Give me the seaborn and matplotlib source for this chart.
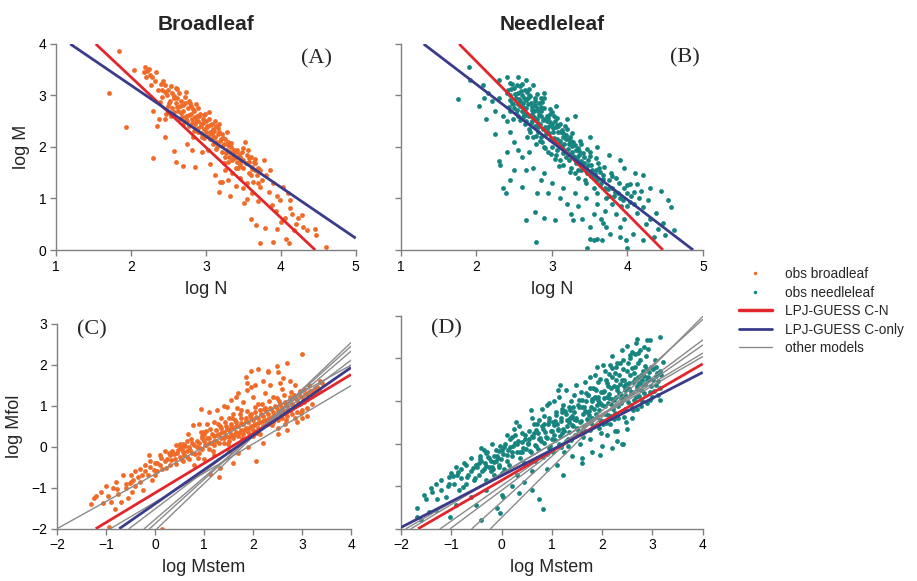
import numpy as np
import pandas as pd
import matplotlib
matplotlib.use('Agg')
import matplotlib.pyplot as plt
from matplotlib.lines import Line2D
import seaborn as sns

sns.set_style('ticks')
plt.rcParams['font.family'] = ['Liberation Sans', 'DejaVu Sans']

# --- colours
col_broad = '#F06A28'
col_needle = '#168580'
col_cn = '#E3262B'
col_conly = '#3B3B8C'
col_other = '#8A8A8A'

# --- observations, panel A (log N, log M) broadleaf
broad_nm = [
    (1.71, 3.05), (1.84, 3.86), (1.93, 2.38), (2.04, 3.49), (2.30, 1.78), (2.17, 3.45), (2.19, 3.55),
    (2.21, 3.48), (2.33, 3.46), (2.43, 3.29), (2.20, 3.36), (2.28, 3.35), (2.27, 3.20), (2.40, 3.22),
    (2.38, 2.55), (2.30, 2.70), (2.45, 2.55), (2.35, 2.40), (2.45, 2.20), (2.58, 1.93), (2.60, 1.70),
    (2.69, 1.64), (2.86, 1.62), (3.06, 1.67), (2.82, 1.95), (2.75, 2.05), (2.95, 1.90), (3.17, 1.12),
    (3.32, 1.05), (3.19, 1.33), (3.22, 1.33), (3.12, 1.45),
    (3.67, 0.49), (3.72, 0.13), (3.90, 0.15), (4.07, 0.21), (4.11, 0.13), (4.17, 0.39), (4.35, 0.39),
    (4.46, 0.40), (4.47, 0.30), (4.60, 0.05), (3.79, 0.42), (4.00, 0.55), (4.12, 0.81), (4.23, 0.62),
    (4.28, 0.68), (3.99, 0.97), (3.84, 1.13), (3.95, 1.04), (3.72, 1.23), (3.63, 1.33), (3.78, 1.74),
    (3.65, 1.76), (3.55, 0.99), (3.51, 0.91), (4.03, 1.23), (4.12, 0.97), (3.88, 0.88), (3.93, 0.75),
    (4.05, 0.62), (4.20, 0.50), (3.70, 0.95), (3.62, 1.10), (3.80, 1.45), (3.85, 1.55), (3.90, 1.30),
    (3.75, 1.35), (3.68, 1.45), (4.10, 1.10), (4.15, 0.70), (4.30, 0.45), (3.95, 0.40), (3.60, 0.60),
    (3.40, 1.25), (3.45, 1.40), (3.50, 1.20), (3.55, 1.30), (3.58, 1.50), (3.60, 1.45), (3.65, 1.55),
    (3.70, 1.30), (3.70, 1.60), (3.40, 1.60), (3.35, 1.50), (3.30, 1.35), (3.25, 1.55),
    (2.42, 3.10), (2.45, 3.20), (2.48, 3.00), (2.50, 3.10), (2.52, 2.90), (2.55, 3.05), (2.57, 2.95),
    (2.60, 2.85), (2.50, 2.80), (2.55, 2.75), (2.60, 3.15), (2.47, 2.65), (2.53, 2.60),
    (2.62, 2.95), (2.65, 2.80), (2.67, 2.90), (2.70, 2.70), (2.72, 2.85), (2.74, 2.60), (2.76, 2.75),
    (2.78, 2.90), (2.80, 2.65), (2.66, 2.55), (2.70, 2.45), (2.75, 2.50), (2.80, 2.80), (2.63, 2.70),
    (2.78, 2.40),
    (2.82, 2.55), (2.84, 2.70), (2.86, 2.45), (2.88, 2.60), (2.90, 2.50), (2.92, 2.65), (2.94, 2.40),
    (2.96, 2.55), (2.98, 2.35), (3.00, 2.50), (2.85, 2.35), (2.90, 2.30), (2.95, 2.20), (2.83, 2.20),
    (2.90, 2.75), (2.97, 2.62), (2.87, 2.50), (2.93, 2.45),
    (3.02, 2.40), (3.04, 2.55), (3.06, 2.30), (3.08, 2.45), (3.10, 2.35), (3.12, 2.20), (3.14, 2.40),
    (3.16, 2.25), (3.18, 2.30), (3.20, 2.15), (3.05, 2.15), (3.10, 2.05), (3.15, 2.00), (3.03, 1.95),
    (3.12, 2.50), (3.18, 2.45), (3.00, 2.30), (3.08, 2.25),
    (3.22, 2.25), (3.24, 2.05), (3.26, 2.15), (3.28, 1.95), (3.30, 2.10), (3.32, 1.90), (3.34, 2.00),
    (3.36, 1.85), (3.38, 1.95), (3.40, 1.80), (3.25, 1.80), (3.30, 1.70), (3.35, 1.75), (3.28, 2.30),
    (3.22, 1.90),
    (3.42, 1.95), (3.45, 1.80), (3.48, 1.90), (3.50, 1.75), (3.52, 2.10), (3.55, 1.85), (3.58, 1.70),
    (3.60, 1.80), (3.45, 1.65), (3.50, 1.60), (3.62, 1.62), (3.66, 1.68), (3.72, 1.55), (3.56, 1.95),
]
broad_nm_core = [
    (2.41, 2.98), (2.46, 3.07), (2.51, 2.86), (2.54, 3.18), (2.58, 2.99), (2.61, 2.77), (2.64, 3.04),
    (2.67, 2.66), (2.69, 2.81), (2.72, 2.97), (2.74, 2.54), (2.77, 2.63), (2.79, 2.86), (2.81, 2.47),
    (2.83, 2.74), (2.86, 2.58), (2.89, 2.37), (2.91, 2.61), (2.93, 2.28), (2.96, 2.47), (2.99, 2.64),
    (3.01, 2.39), (3.03, 2.21), (3.06, 2.42), (3.09, 2.17), (3.11, 2.31), (3.13, 2.09), (3.16, 2.36),
    (3.19, 2.11), (3.21, 2.01), (3.23, 2.18), (3.27, 1.88), (3.29, 2.03), (3.31, 1.81), (3.33, 2.07),
    (3.37, 1.79), (3.39, 1.91), (3.41, 1.71), (3.44, 1.87), (3.47, 1.72), (3.49, 1.98), (3.53, 1.69),
    (3.57, 1.79), (3.61, 1.58), (3.64, 1.71), (2.36, 3.11), (2.39, 2.87), (2.32, 3.29), (2.26, 3.39),
    (2.24, 3.52), (2.57, 2.68), (2.68, 2.58), (2.84, 2.31), (2.97, 2.18), (3.14, 1.96), (3.24, 1.69),
    (3.43, 1.59), (2.62, 3.12), (2.73, 3.06), (2.87, 2.83), (3.04, 2.68),
]

# --- observations, panel B (log N, log M) needleleaf
needle_nm = [
    (1.76, 2.94), (1.90, 3.55), (1.92, 3.30), (2.03, 2.79), (2.13, 2.54), (2.24, 2.26), (2.30, 1.72),
    (2.31, 1.65), (2.35, 1.21), (2.39, 1.11), (2.44, 1.35), (2.60, 1.23), (2.66, 0.59), (2.77, 0.73),
    (2.79, 0.15), (2.90, 0.63), (3.04, 0.58), (3.28, 0.59), (3.46, 0.03), (3.50, 0.21), (3.55, 0.20),
    (3.60, 0.22), (3.66, 0.20), (4.00, 0.03), (3.90, 0.25),
    (2.08, 3.20), (2.15, 3.05), (2.20, 2.90), (2.10, 2.95), (2.25, 2.70), (2.35, 2.60), (2.30, 2.95),
    (2.40, 2.50), (2.45, 2.30), (2.50, 2.10), (2.40, 1.90), (2.55, 1.95), (2.60, 1.80), (2.50, 1.55),
    (2.70, 1.90), (2.65, 1.55), (2.75, 1.60), (2.85, 1.35), (2.90, 1.50), (2.80, 1.10), (2.95, 1.10),
    (3.00, 1.30), (3.10, 1.00), (3.20, 0.90), (3.15, 1.20), (3.30, 1.10), (3.35, 0.85), (3.25, 0.70),
    (3.40, 0.60), (3.45, 1.00),
    (4.03, 1.29), (4.12, 1.29), (4.27, 0.98), (4.54, 0.97), (4.58, 0.84), (4.62, 0.39), (4.47, 0.53),
    (4.38, 0.71), (4.20, 0.84), (4.12, 0.71), (4.07, 0.32), (3.90, 0.45), (3.77, 0.32), (3.68, 0.52),
    (3.85, 0.70), (3.95, 0.60), (3.70, 0.75), (3.80, 0.90), (4.00, 0.85), (4.15, 1.00), (4.30, 0.60),
    (4.40, 0.40), (4.50, 0.30), (3.60, 0.90), (3.65, 0.60), (3.75, 1.05), (3.88, 1.10), (4.05, 1.05),
    (4.25, 0.50), (3.55, 0.70), (3.50, 0.45), (3.72, 0.45), (4.35, 0.25), (3.98, 0.20), (4.20, 0.20),
    (2.30, 3.30), (2.40, 3.35), (2.45, 3.25), (2.55, 3.35), (2.65, 3.30), (2.75, 3.20), (2.85, 2.95),
    (2.90, 3.05), (3.05, 2.80), (3.20, 2.55), (3.30, 2.60), (3.50, 2.20), (3.60, 2.00), (3.75, 1.85),
    (3.90, 1.75), (3.95, 1.60), (4.10, 1.50), (4.20, 1.45), (4.30, 1.20), (4.45, 1.15),
    (2.42, 3.10), (2.45, 3.00), (2.47, 2.85), (2.50, 3.15), (2.52, 2.95), (2.55, 3.05), (2.57, 2.80),
    (2.60, 3.00), (2.50, 2.75), (2.55, 2.60), (2.58, 2.90), (2.45, 2.70), (2.60, 2.70), (2.48, 2.55),
    (2.53, 3.20),
    (2.62, 2.85), (2.64, 3.10), (2.66, 2.75), (2.68, 2.95), (2.70, 2.60), (2.72, 2.85), (2.74, 2.50),
    (2.76, 2.70), (2.78, 2.90), (2.80, 2.55), (2.65, 2.50), (2.70, 2.35), (2.75, 2.20), (2.80, 2.75),
    (2.63, 2.65), (2.77, 2.40), (2.69, 3.00), (2.73, 2.65), (2.67, 2.20), (2.79, 2.05),
    (2.82, 2.70), (2.84, 2.45), (2.86, 2.60), (2.88, 2.35), (2.90, 2.55), (2.92, 2.25), (2.94, 2.50),
    (2.96, 2.40), (2.98, 2.15), (3.00, 2.45), (2.85, 2.20), (2.90, 2.00), (2.95, 1.90), (2.83, 2.85),
    (2.89, 2.75), (2.97, 2.65), (2.87, 2.10), (2.93, 2.35), (3.00, 2.00), (2.81, 2.30),
    (3.02, 2.30), (3.04, 2.50), (3.06, 2.15), (3.08, 2.40), (3.10, 2.05), (3.12, 2.30), (3.14, 2.20),
    (3.16, 1.95), (3.18, 2.15), (3.20, 2.35), (3.05, 1.85), (3.10, 1.75), (3.15, 1.65), (3.03, 2.60),
    (3.11, 2.45), (3.19, 1.80), (3.07, 1.95), (3.13, 2.00),
    (3.22, 2.05), (3.24, 2.20), (3.26, 1.90), (3.28, 2.10), (3.30, 1.80), (3.32, 1.95), (3.34, 1.70),
    (3.36, 1.85), (3.38, 2.05), (3.40, 1.65), (3.25, 1.60), (3.30, 1.50), (3.35, 1.40), (3.23, 1.75),
    (3.39, 1.55),
    (3.42, 1.80), (3.45, 1.60), (3.48, 1.75), (3.50, 1.50), (3.52, 1.65), (3.55, 1.40), (3.58, 1.55),
    (3.60, 1.35), (3.62, 1.60), (3.65, 1.30), (3.45, 1.30), (3.50, 1.90), (3.55, 1.20), (3.68, 1.45),
    (3.70, 1.20), (3.60, 1.10),
    (3.75, 1.35), (3.80, 1.20), (3.85, 1.40), (3.90, 1.00), (3.95, 1.20), (4.00, 1.10), (3.78, 1.50),
    (3.82, 1.05), (4.08, 0.90), (4.18, 1.15), (3.92, 0.85), (3.72, 1.00),
]
needle_nm_core = [
    (2.41, 3.05), (2.44, 2.92), (2.46, 3.12), (2.49, 2.83), (2.51, 3.02), (2.54, 2.71), (2.56, 2.93),
    (2.59, 3.08), (2.61, 2.78), (2.63, 2.96), (2.66, 2.63), (2.68, 2.84), (2.71, 2.99), (2.73, 2.72),
    (2.76, 2.58), (2.78, 2.81), (2.81, 2.46), (2.83, 2.63), (2.86, 2.77), (2.88, 2.52), (2.91, 2.38),
    (2.93, 2.61), (2.96, 2.27), (2.98, 2.49), (3.01, 2.36), (3.03, 2.18), (3.06, 2.42), (3.08, 2.29),
    (3.11, 2.11), (3.13, 2.33), (3.16, 2.06), (3.18, 2.24), (3.21, 1.97), (3.23, 2.14), (3.26, 2.01),
    (3.28, 1.83), (3.31, 2.03), (3.33, 1.79), (3.36, 1.93), (3.38, 1.72), (3.41, 1.88), (3.43, 1.68),
    (3.46, 1.49), (3.48, 1.66), (3.51, 1.83), (3.53, 1.56), (3.57, 1.47), (3.61, 1.69), (3.64, 1.51),
    (3.67, 1.38),
    (2.43, 2.78), (2.47, 3.22), (2.52, 2.66), (2.57, 3.18), (2.62, 2.58), (2.67, 3.06), (2.72, 2.47),
    (2.77, 2.96), (2.82, 2.39), (2.87, 2.88), (2.92, 2.31), (2.97, 2.74), (3.02, 2.12), (3.07, 2.57),
    (3.12, 2.02), (3.17, 2.41), (3.22, 1.86), (3.27, 2.28), (3.32, 1.68), (3.37, 2.12), (3.42, 1.58),
    (3.47, 1.97), (3.52, 1.43), (3.58, 1.78), (3.63, 1.27), (3.69, 1.62), (3.74, 1.18), (3.79, 1.44),
    (3.84, 1.12), (3.89, 1.31), (3.94, 0.98), (3.99, 1.26), (4.04, 0.94), (4.09, 1.13), (2.58, 2.52),
    (2.64, 2.44), (2.71, 2.29), (2.79, 2.22), (2.84, 2.11), (2.91, 1.99), (2.99, 1.87), (3.04, 1.76),
    (3.09, 1.64), (3.14, 1.88), (3.24, 1.52), (3.34, 1.56), (3.44, 1.36), (2.55, 2.83), (2.65, 2.91),
    (2.74, 2.77), (2.85, 2.69), (2.95, 2.57), (3.05, 2.38), (3.15, 2.27), (3.25, 2.11), (3.35, 1.98),
    (2.60, 3.22), (2.70, 3.12), (2.80, 3.02), (2.89, 2.95), (3.00, 2.68),
]

# --- observations, panel C (log Mstem, log Mfol) broadleaf
broad_sf = [
    (-1.06, -1.38), (-0.82, -1.53), (-0.47, -1.10), (-0.49, -0.87), (-0.30, -0.85), (-0.06, -0.81),
    (0.28, -0.16), (0.51, 0.07), (0.58, 0.07), (0.94, 0.91), (0.77, 0.53), (1.07, 0.55), (1.26, 0.89),
    (1.46, 0.96), (1.67, 0.95), (1.65, 1.22), (1.87, 1.55), (1.88, 1.38), (1.95, 1.45), (2.30, 1.81),
    (2.31, 1.85), (2.48, 1.98), (2.70, 2.05), (3.00, 2.25), (2.50, 1.83), (2.62, 1.67), (2.06, -0.34),
    (1.33, -0.53), (1.30, -0.73), (1.13, -0.67), (0.15, -2.00), (-0.93, -1.97),
    (-1.20, -1.20), (-1.10, -1.10), (-0.95, -1.20), (-0.90, -1.35), (-0.75, -1.15), (-0.70, -1.35),
    (-0.60, -1.00), (-0.55, -1.25), (-0.40, -0.95), (-0.35, -0.75), (-0.25, -1.05), (-0.20, -0.60),
    (-0.10, -0.50), (0.00, -0.70), (0.05, -0.40), (0.10, -0.20), (0.15, -0.55), (0.20, -0.35),
    (0.30, -0.45), (0.35, -0.10), (-1.00, -0.95), (-0.80, -0.85), (-0.65, -0.70), (-1.30, -1.40),
    (-1.25, -1.25), (-0.85, -1.00),
    (0.90, 0.55), (1.00, 0.35), (1.10, 0.85), (1.20, 0.60), (1.35, 0.70), (1.40, 1.00), (1.50, 0.70),
    (1.55, 1.15), (1.60, 0.80), (1.70, 1.30), (1.75, 0.90), (1.80, 1.10), (1.85, 1.70), (2.00, 1.20),
    (2.05, 1.50), (2.10, 1.05), (2.20, 1.60), (2.25, 1.30), (2.35, 1.50), (2.40, 1.20), (2.55, 1.55),
    (2.60, 1.40), (2.75, 1.60), (2.85, 1.50), (2.10, 1.90), (1.95, 1.85),
    (1.00, -0.30), (1.20, -0.20), (1.50, -0.10), (1.70, -0.15), (1.90, 0.00), (2.20, 0.10),
    (2.50, 0.30), (2.70, 0.40), (2.90, 0.60), (3.10, 0.75), (0.80, -0.45), (1.60, -0.40),
    (0.40, -0.30), (0.45, -0.15), (0.50, -0.25), (0.55, -0.05), (0.60, -0.20), (0.65, -0.10),
    (0.70, 0.00), (0.75, -0.15), (0.80, 0.05), (0.50, 0.00), (0.60, 0.05), (0.70, -0.30), (0.65, 0.15),
    (0.85, 0.00), (0.90, 0.10), (0.95, -0.05), (1.00, 0.15), (1.05, 0.05), (1.10, 0.20), (1.15, 0.10),
    (1.20, 0.25), (1.25, 0.15), (1.30, 0.30), (0.90, -0.15), (1.00, 0.30), (1.10, -0.05), (1.20, 0.05),
    (1.25, 0.40), (0.95, 0.20),
    (1.35, 0.20), (1.40, 0.35), (1.45, 0.25), (1.50, 0.40), (1.55, 0.30), (1.60, 0.45), (1.65, 0.35),
    (1.70, 0.50), (1.75, 0.40), (1.80, 0.55), (1.40, 0.10), (1.50, 0.15), (1.60, 0.20), (1.70, 0.25),
    (1.45, 0.50), (1.55, 0.55), (1.65, 0.60), (1.75, 0.70), (1.35, 0.45), (1.80, 0.30),
    (1.85, 0.45), (1.90, 0.60), (1.95, 0.50), (2.00, 0.65), (2.05, 0.55), (2.10, 0.70), (2.15, 0.60),
    (2.20, 0.75), (2.25, 0.65), (2.30, 0.80), (1.90, 0.35), (2.00, 0.40), (2.10, 0.45), (2.20, 0.50),
    (1.95, 0.80), (2.05, 0.85), (2.15, 0.90), (2.25, 0.95), (1.85, 0.70), (2.30, 0.55), (2.00, 0.25),
    (2.15, 0.30),
    (2.35, 0.70), (2.40, 0.85), (2.45, 0.75), (2.50, 0.90), (2.55, 0.80), (2.60, 0.95), (2.65, 0.85),
    (2.70, 1.00), (2.75, 0.90), (2.80, 1.05), (2.40, 0.60), (2.50, 0.65), (2.60, 0.70), (2.70, 0.75),
    (2.45, 1.00), (2.55, 1.05), (2.65, 1.10), (2.75, 1.20), (2.35, 0.95), (2.80, 0.80), (2.50, 0.45),
    (2.65, 0.55),
    (2.85, 1.00), (2.90, 1.15), (2.95, 1.05), (3.00, 1.20), (3.05, 1.10), (3.10, 1.30), (3.15, 1.20),
    (3.20, 1.35), (3.25, 1.30), (3.30, 1.45), (3.35, 1.40), (3.40, 1.55), (2.90, 0.85), (3.00, 0.90),
    (3.10, 0.95), (3.20, 1.05), (2.95, 1.35), (3.05, 1.40), (3.15, 1.50), (3.37, 1.59), (2.85, 0.70),
    (3.00, 0.70),
    (-0.60, -0.90), (-0.50, -0.70), (-0.40, -0.60), (-0.30, -0.55), (-0.20, -0.45), (-0.10, -0.35),
    (0.00, -0.40), (0.10, -0.45), (0.20, -0.10), (0.25, -0.30), (0.30, -0.20), (-0.45, -0.80),
    (-0.15, -0.70), (0.05, -0.60),
]
broad_sf_core = [
    (0.33, -0.33), (0.38, -0.18), (0.42, -0.41), (0.47, -0.08), (0.52, -0.31), (0.57, -0.14),
    (0.62, 0.02), (0.66, -0.24), (0.71, -0.07), (0.76, 0.09), (0.81, -0.18), (0.86, 0.13), (0.91, -0.04),
    (0.96, 0.27), (1.01, 0.04), (1.06, 0.22), (1.11, 0.08), (1.16, 0.31), (1.21, 0.13), (1.26, 0.28),
    (1.31, 0.09), (1.36, 0.37), (1.41, 0.21), (1.46, 0.42), (1.51, 0.24), (1.56, 0.47), (1.61, 0.29),
    (1.66, 0.51), (1.71, 0.33), (1.76, 0.57), (1.81, 0.41), (1.86, 0.62), (1.91, 0.46), (1.96, 0.69),
    (2.01, 0.52), (2.06, 0.73), (2.11, 0.58), (2.16, 0.79), (2.21, 0.63), (2.26, 0.86), (2.31, 0.68),
    (2.36, 0.91), (2.41, 0.74), (2.46, 0.96), (2.51, 0.81), (2.56, 1.02), (2.61, 0.86), (2.66, 1.07),
    (2.71, 0.92), (2.76, 1.13), (2.81, 0.97), (2.86, 1.18), (2.91, 1.03), (2.96, 1.24), (3.01, 1.08),
    (3.06, 1.29), (3.11, 1.17), (3.16, 1.36), (3.21, 1.24), (3.26, 1.42), (3.31, 1.33),
    (0.58, -0.36), (0.73, 0.18), (0.88, -0.27), (1.03, 0.38), (1.18, -0.11), (1.33, 0.51), (1.48, 0.07),
    (1.63, 0.64), (1.78, 0.21), (1.93, 0.77), (2.08, 0.34), (2.23, 0.93), (2.38, 0.52), (2.53, 1.12),
    (2.68, 0.66), (2.83, 1.27), (2.98, 0.83), (1.13, 0.44), (1.28, 0.56), (1.43, 0.61), (1.58, 0.69),
    (1.73, 0.79), (1.88, 0.87), (2.03, 0.98), (2.18, 1.04), (2.33, 1.11), (2.48, 1.18), (2.63, 1.26),
    (2.78, 1.33), (0.23, -0.52), (-0.02, -0.58), (-0.27, -0.68), (-0.52, -0.88), (-0.77, -1.04),
    (0.13, -0.28), (-0.12, -0.21), (0.43, 0.05), (0.68, 0.31), (0.93, 0.37),
]

# --- observations, panel D (log Mstem, log Mfol) needleleaf
needle_sf = [
    (-1.69, -1.52), (-1.69, -1.72), (-1.50, -1.31), (-1.39, -1.13), (-1.29, -1.31), (-1.06, -0.99),
    (-1.05, -0.78), (-0.89, -0.74), (-0.69, -0.78), (-0.77, -1.01), (-0.10, -1.52), (-0.41, -1.80),
    (-1.03, -1.72), (0.82, -1.54), (0.58, 0.79), (1.16, 1.37), (2.67, 2.37), (2.89, 2.43), (2.39, 0.00),
    (2.30, 0.05), (2.20, -0.10),
    (-1.20, -1.10), (-1.10, -1.25), (-0.95, -0.95), (-0.85, -1.10), (-0.80, -0.60), (-0.70, -0.95),
    (-0.60, -0.65), (-0.55, -0.85), (-0.50, -0.50), (-0.45, -0.75), (-0.40, -0.40), (-0.35, -0.60),
    (-0.30, -0.85), (-0.25, -0.35), (-0.20, -0.55), (-0.15, -0.75), (-0.10, -0.30), (-0.05, -0.50),
    (0.00, -0.15), (0.00, -0.70), (-0.60, -1.25), (-0.30, -1.10), (-0.90, -1.45), (-1.30, -1.55),
    (-1.45, -1.60), (-1.60, -1.80), (-0.50, -1.45), (-0.43, -0.36), (-0.51, -0.50), (-0.30, -0.23),
    (-0.96, -0.76), (-1.04, -0.95), (0.03, -1.25), (-0.03, -1.64),
    (3.15, 2.51), (2.95, 2.43), (2.92, 2.23), (2.59, 2.15), (2.52, 1.90), (2.29, 1.90), (2.19, 1.77),
    (2.02, 1.84), (1.76, 1.57), (1.49, 1.37), (1.28, 1.26), (1.13, 1.26), (2.42, 0.00), (1.96, -0.27),
    (1.59, -0.46), (1.23, -0.74), (3.08, 1.37), (3.21, 1.92), (3.15, 1.02), (0.29, 0.50), (0.95, 0.96),
    (-0.48, -0.55), (-0.42, -0.30), (-0.38, -0.65), (-0.33, -0.45), (-0.28, -0.20), (-0.22, -0.40),
    (-0.18, -0.60), (-0.12, -0.15), (-0.08, -0.35), (-0.03, -0.05), (-0.45, -0.45), (-0.25, -0.55),
    (-0.15, -0.30), (-0.05, -0.55), (-0.35, -0.15),
    (0.03, -0.25), (0.07, 0.00), (0.10, -0.40), (0.13, -0.15), (0.17, 0.10), (0.20, -0.30),
    (0.23, -0.05), (0.27, 0.20), (0.30, -0.20), (0.33, 0.05), (0.37, -0.35), (0.40, 0.25),
    (0.43, -0.10), (0.47, 0.10), (0.05, -0.60), (0.15, -0.50), (0.25, 0.35), (0.35, 0.40),
    (0.45, -0.45), (0.20, 0.15), (0.10, 0.20), (0.40, -0.20),
    (0.52, 0.00), (0.55, 0.30), (0.58, -0.20), (0.62, 0.15), (0.65, 0.45), (0.68, -0.05), (0.72, 0.25),
    (0.75, 0.55), (0.78, 0.05), (0.82, 0.35), (0.85, 0.65), (0.88, 0.15), (0.92, 0.45), (0.95, -0.10),
    (0.98, 0.30), (0.60, 0.60), (0.70, -0.35), (0.80, 0.80), (0.90, -0.25), (0.55, 0.10), (0.65, 0.25),
    (0.75, 0.10), (0.85, 0.45), (0.95, 0.60), (0.70, 0.45), (0.90, 0.90),
    (1.02, 0.50), (1.05, 0.20), (1.08, 0.75), (1.12, 0.35), (1.15, 0.00), (1.18, 0.60), (1.22, 0.90),
    (1.25, 0.30), (1.28, 0.70), (1.32, 0.10), (1.35, 0.50), (1.38, 1.00), (1.42, 0.40), (1.45, 0.75),
    (1.48, 0.20), (1.05, 1.00), (1.15, 1.10), (1.25, -0.20), (1.35, 0.85), (1.45, 1.15), (1.10, 0.45),
    (1.20, 0.25), (1.30, 0.55), (1.40, 0.65), (1.00, 0.10), (1.48, 0.55), (1.20, 0.80), (1.33, -0.05),
    (1.52, 0.90), (1.55, 0.50), (1.58, 1.20), (1.62, 0.70), (1.65, 0.30), (1.68, 1.00), (1.72, 0.55),
    (1.75, 1.30), (1.78, 0.85), (1.82, 0.40), (1.85, 1.10), (1.88, 0.70), (1.92, 1.45), (1.95, 0.95),
    (1.98, 0.25), (1.55, 0.00), (1.65, 1.45), (1.75, 0.10), (1.85, 1.60), (1.95, 0.55), (1.60, 0.85),
    (1.70, 0.75), (1.80, 1.00), (1.90, 0.90), (1.50, 0.35), (1.72, 1.15), (1.88, 1.25), (1.62, 0.15),
    (1.80, 0.60), (1.92, 1.10),
    (2.02, 1.20), (2.05, 0.70), (2.08, 1.50), (2.12, 0.95), (2.15, 0.45), (2.18, 1.30), (2.22, 0.80),
    (2.25, 1.65), (2.28, 1.10), (2.32, 0.60), (2.35, 1.40), (2.38, 0.95), (2.42, 1.75), (2.45, 1.25),
    (2.48, 0.50), (2.05, 1.70), (2.15, 1.85), (2.25, 0.30), (2.35, 1.90), (2.45, 0.80), (2.10, 1.10),
    (2.20, 1.05), (2.30, 1.25), (2.40, 1.50), (2.00, 0.90), (2.48, 1.40), (2.12, 1.35), (2.28, 1.50),
    (2.38, 1.15), (2.18, 0.65), (2.42, 1.05), (2.02, 0.45),
    (2.52, 1.30), (2.55, 1.60), (2.58, 0.90), (2.62, 1.45), (2.65, 1.80), (2.68, 1.10), (2.72, 1.55),
    (2.75, 1.95), (2.78, 1.25), (2.82, 1.70), (2.85, 1.40), (2.88, 2.05), (2.92, 1.55), (2.95, 1.20),
    (2.98, 1.80), (3.02, 1.50), (3.05, 1.95), (3.10, 1.65), (3.15, 1.30), (2.60, 0.60), (2.70, 0.80),
    (2.80, 1.00), (2.90, 0.95), (3.00, 1.10), (2.55, 2.00), (2.65, 2.10), (2.75, 2.20), (2.60, 1.20),
    (2.70, 1.35), (2.80, 1.50), (2.90, 1.75), (3.08, 1.80), (3.18, 1.60),
    (1.40, -0.30), (1.60, -0.35), (1.80, -0.20), (2.00, -0.05), (2.10, 0.20), (2.30, 0.30), (2.50, 0.35),
    (1.10, -0.50), (0.90, -0.60), (0.60, -0.65), (0.30, -0.75), (0.45, -0.90), (0.20, -1.00),
    (0.00, -1.20), (0.35, -1.15), (0.60, -1.10), (0.75, -1.30),
    (1.90, 1.80), (2.20, 2.05), (2.40, 2.20), (2.50, 2.30), (2.70, 2.45), (-0.20, 0.00),
    (-0.40, -0.10), (-0.60, -0.35), (-0.75, -0.45), (-0.90, -0.55), (-1.00, -0.70), (-1.20, -0.85),
    (-1.30, -0.95), (-1.40, -1.05), (-1.55, -1.20),
]
needle_sf_core = [
    (0.52, 0.02), (0.57, -0.18), (0.61, 0.18), (0.66, -0.03), (0.69, 0.32), (0.73, -0.12), (0.77, 0.13),
    (0.81, 0.41), (0.84, 0.02), (0.87, 0.28), (0.91, 0.13), (0.94, 0.52), (0.97, -0.06), (1.01, 0.29),
    (1.04, 0.44), (1.07, 0.08), (1.09, 0.68), (1.13, 0.32), (1.16, 0.17), (1.19, 0.53), (1.23, 0.33),
    (1.26, 0.77), (1.29, 0.05), (1.31, 0.42), (1.34, 0.26), (1.37, 0.61), (1.41, 0.44), (1.43, 0.86),
    (1.46, 0.19), (1.49, 0.61), (1.51, 0.37), (1.54, 0.85), (1.57, 0.53), (1.59, 1.03), (1.63, 0.41),
    (1.66, 0.76), (1.69, 0.58), (1.71, 1.14), (1.74, 0.77), (1.77, 0.49), (1.79, 1.04), (1.83, 0.81),
    (1.86, 1.27), (1.89, 0.63), (1.91, 1.01), (1.94, 0.78), (1.97, 1.22), (1.99, 0.52), (2.03, 1.06),
    (2.06, 0.87), (2.09, 1.41), (2.11, 0.66), (2.14, 1.16), (2.17, 0.93), (2.19, 1.57), (2.23, 1.02),
    (2.26, 0.71), (2.29, 1.33), (2.31, 0.89), (2.34, 1.62), (2.37, 1.08), (2.39, 0.77), (2.43, 1.36),
    (2.46, 1.14), (2.49, 1.71), (2.51, 0.98), (2.54, 1.42), (2.57, 1.19), (2.59, 1.78), (2.63, 1.02),
    (2.66, 1.51), (2.69, 1.27), (2.71, 1.88), (2.74, 1.12), (2.77, 1.61), (2.79, 1.38), (2.83, 1.19),
    (2.86, 1.82), (2.89, 1.49), (2.93, 1.67), (2.97, 1.36), (3.01, 1.74), (3.04, 1.23), (3.07, 1.58),
    (3.12, 1.47), (3.16, 1.71),
    (0.31, -0.02), (0.36, -0.21), (0.41, 0.03), (0.46, 0.21), (0.49, -0.13), (0.11, -0.28), (0.16, -0.08),
    (0.21, -0.19), (0.26, 0.02), (-0.11, -0.42), (-0.06, -0.18), (-0.01, -0.37), (0.04, -0.09),
    (-0.31, -0.52), (-0.26, -0.31), (-0.21, -0.64), (-0.16, -0.43), (-0.57, -0.58), (-0.53, -0.81),
    (-0.66, -0.73), (-0.71, -0.51), (-0.81, -0.82), (-0.87, -0.67), (1.06, 0.54), (1.21, 0.73),
    (1.36, 0.79), (1.53, 1.01), (1.67, 1.18), (1.81, 1.31), (1.96, 1.52), (2.13, 1.63), (2.27, 1.79),
    (2.41, 1.95), (2.56, 2.07), (2.72, 2.12), (2.84, 2.26), (1.18, -0.09), (1.38, 0.09), (1.58, 0.28),
    (1.76, 0.31), (1.93, 0.37), (2.08, 0.48), (2.24, 0.58), (2.44, 0.62), (2.61, 0.79), (2.78, 0.88),
    (2.96, 1.03), (3.11, 1.15), (0.83, -0.32), (1.03, -0.21), (0.66, -0.42), (1.44, 0.58), (1.64, 0.86),
    (1.84, 1.08), (2.04, 1.23), (2.24, 1.36), (2.44, 1.49), (2.64, 1.66), (2.84, 1.59), (1.74, 0.67),
    (1.94, 0.95), (2.14, 1.08), (2.34, 1.19), (2.54, 1.28), (2.74, 1.43), (2.94, 1.52),
]

# --- fitted lines: start point and end point
a_cn = [(1.53, 4.0), (4.46, 0.0)]
a_conly = [(1.19, 4.0), (5.0, 0.23)]
b_cn = [(1.77, 4.0), (4.47, 0.0)]
b_conly = [(1.30, 4.0), (4.87, 0.0)]
c_cn = [(-1.21, -2.0), (4.0, 1.76)]
c_conly = [(-0.73, -2.0), (4.0, 1.93)]
d_cn = [(-1.66, -2.0), (4.0, 1.87)]
d_conly = [(-2.0, -1.97), (4.0, 1.67)]

# other models: x where line leaves the bottom (y=-2), y at x=4
c_other_x0 = [-2.0, -0.91, -0.53, -0.22, -0.11, 0.04]
c_other_y4 = [1.99, 1.49, 2.11, 2.33, 2.45, 2.54]
d_other_x0 = [-1.90, -1.80, -1.22, -1.02, -0.59, -0.22]
d_other_y4 = [2.04, 2.12, 2.31, 2.43, 2.91, 2.98]

fig = plt.figure(figsize=(9.17, 5.81), dpi=100)
ax_a = fig.add_axes([0.0611, 0.5697, 0.3268, 0.3546])
ax_b = fig.add_axes([0.4373, 0.5697, 0.3293, 0.3546])
ax_c = fig.add_axes([0.0622, 0.0900, 0.3206, 0.3529])
ax_d = fig.add_axes([0.4373, 0.0900, 0.3290, 0.3666])


def scatter(ax, pts, color):
    df = pd.DataFrame(pts, columns=['x', 'y'])
    sns.scatterplot(data=df, x='x', y='y', ax=ax, color=color, s=12, linewidth=0,
                    marker='o', legend=False, zorder=2)


def fit_line(ax, seg, color):
    ax.plot([seg[0][0], seg[1][0]], [seg[0][1], seg[1][1]], color=color, lw=2, zorder=4,
            solid_capstyle='butt')


def other_lines(ax, x0s, y4s):
    for x0, y4 in zip(x0s, y4s):
        ax.plot([x0, 4.0], [-2.0, y4], color=col_other, lw=1, zorder=3)


scatter(ax_a, broad_nm + broad_nm_core, col_broad)
fit_line(ax_a, a_cn, col_cn)
fit_line(ax_a, a_conly, col_conly)

scatter(ax_b, needle_nm + needle_nm_core, col_needle)
fit_line(ax_b, b_cn, col_cn)
fit_line(ax_b, b_conly, col_conly)

scatter(ax_c, broad_sf + broad_sf_core, col_broad)
other_lines(ax_c, c_other_x0, c_other_y4)
fit_line(ax_c, c_cn, col_cn)
fit_line(ax_c, c_conly, col_conly)

scatter(ax_d, needle_sf + needle_sf_core, col_needle)
other_lines(ax_d, d_other_x0, d_other_y4)
fit_line(ax_d, d_cn, col_cn)
fit_line(ax_d, d_conly, col_conly)

for ax in (ax_a, ax_b):
    ax.set_xlim(1, 5)
    ax.set_ylim(0, 4)
    ax.set_xticks([1, 2, 3, 4, 5])
    ax.set_yticks([0, 1, 2, 3, 4])
    ax.set_xlabel('log N', fontsize=13, labelpad=5)
for ax in (ax_c, ax_d):
    ax.set_xlim(-2, 4)
    ax.set_ylim(-2, 3)
    ax.set_xticks([-2, -1, 0, 1, 2, 3, 4])
    ax.set_yticks([-2, -1, 0, 1, 2, 3])
    ax.set_xlabel('log Mstem', fontsize=13, labelpad=5)

for ax in (ax_a, ax_b, ax_c, ax_d):
    sns.despine(ax=ax)
    for sp in ('left', 'bottom'):
        ax.spines[sp].set_color('#808080')
        ax.spines[sp].set_linewidth(1.0)
    ax.tick_params(direction='out', length=4, width=1, color='#808080',
                   labelsize=10, labelcolor='black', pad=3)
    ax.set_facecolor('white')

ax_a.set_ylabel('log M', fontsize=13, labelpad=6)
ax_c.set_ylabel('log Mfol', fontsize=13, labelpad=6)
ax_b.set_ylabel('')
ax_d.set_ylabel('')
ax_b.set_yticklabels([])
ax_d.set_yticklabels([])

ax_a.set_title('Broadleaf', fontsize=15, fontweight='bold', pad=10)
ax_b.set_title('Needleleaf', fontsize=15, fontweight='bold', pad=10)

serif = ['Liberation Serif', 'DejaVu Serif']
ax_a.text(0.87, 0.93, '(A)', transform=ax_a.transAxes, fontsize=16, family=serif, ha='center', va='center')
ax_b.text(0.94, 0.935, '(B)', transform=ax_b.transAxes, fontsize=16, family=serif, ha='center', va='center')
ax_c.text(0.12, 0.97, '(C)', transform=ax_c.transAxes, fontsize=16, family=serif, ha='center', va='center')
ax_d.text(0.15, 0.94, '(D)', transform=ax_d.transAxes, fontsize=16, family=serif, ha='center', va='center')

handles = [
    Line2D([], [], ls='none', marker='o', markersize=2.5, color=col_broad, markeredgewidth=0),
    Line2D([], [], ls='none', marker='o', markersize=2.5, color=col_needle, markeredgewidth=0),
    Line2D([], [], color=col_cn, lw=2.5),
    Line2D([], [], color=col_conly, lw=2),
    Line2D([], [], color=col_other, lw=1),
]
labels = ['obs broadleaf', 'obs needleleaf', 'LPJ-GUESS C-N', 'LPJ-GUESS C-only', 'other models']
fig.legend(handles, labels, loc='upper left', bbox_to_anchor=(0.806, 0.54), frameon=False,
           fontsize=9.8, handlelength=2.4, handletextpad=1.0, labelspacing=0.33,
           borderpad=0, borderaxespad=0)

fig.savefig('out.png', dpi=100)
